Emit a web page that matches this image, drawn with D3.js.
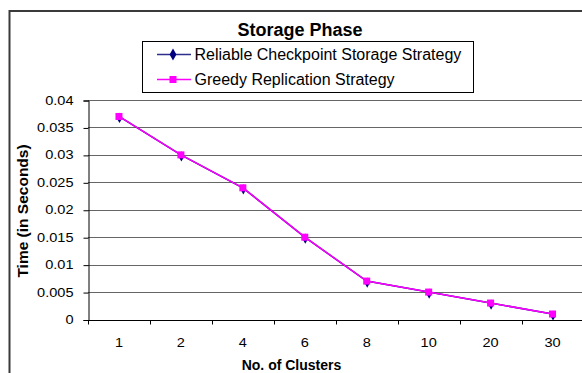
<!DOCTYPE html>
<html>
<head>
<meta charset="utf-8">
<script src="https://cdn.jsdelivr.net/npm/d3@7/dist/d3.min.js"></script>
<style>
  html, body { margin: 0; padding: 0; background: #fff; }
  svg { display: block; font-family: "Liberation Sans", Arial, sans-serif; }
</style>
</head>
<body>
<svg id="chart" width="582" height="373"></svg>
<script>
// Storage phase timing per number of clusters
const clusters = ["1", "2", "4", "6", "8", "10", "20", "30"];
const reliableCheckpoint = [0.037, 0.030, 0.024, 0.015, 0.007, 0.005, 0.003, 0.001];
const greedyReplication  = [0.037, 0.030, 0.024, 0.015, 0.007, 0.005, 0.003, 0.001];
const yTicks = [0, 0.005, 0.01, 0.015, 0.02, 0.025, 0.03, 0.035, 0.04];
const seriesNames = ["Reliable Checkpoint Storage Strategy", "Greedy Replication Strategy"];

const svg = d3.select("#chart");
const tickFont = 13, tickStretch = 1.12;

// outer chart frame (runs past the right and bottom edges)
svg.append("rect")
  .attr("x", 9.5).attr("y", 11).attr("width", 600).attr("height", 400)
  .attr("fill", "#fff").attr("stroke", "#3a3a3a").attr("stroke-width", 2);

const plot = { left: 88, right: 583.5, top: 100, bottom: 319.5 };

const x = d3.scaleBand().domain(clusters).range([plot.left, plot.right]);
const y = d3.scaleLinear().domain([0, 0.04]).range([plot.bottom, plot.top]);
const py = v => Math.round(y(v)) + 0.5;

// horizontal gridlines
svg.append("g")
  .selectAll("line")
  .data(yTicks.filter(d => d > 0))
  .join("line")
  .attr("x1", plot.left).attr("x2", plot.right)
  .attr("y1", py).attr("y2", py)
  .attr("stroke", "#666").attr("stroke-width", 1);

// y axis
const yAxis = d3.axisLeft(y).tickValues(yTicks).tickSize(5).tickFormat("");
const gy = svg.append("g").attr("transform", `translate(${plot.left + 0.5},0.5)`).call(yAxis);
gy.select(".domain").attr("stroke", "#000");
gy.selectAll(".tick line").attr("stroke", "#000");
svg.append("g").selectAll("text")
  .data(yTicks)
  .join("text")
  .attr("transform", d => `translate(73.5,${y(d) + 4.6}) scale(${tickStretch},1)`)
  .attr("text-anchor", "end")
  .attr("font-size", tickFont)
  .text(d => d === 0 ? "0" : String(+d.toFixed(3)));

// x axis: ticks sit between categories
const gx = svg.append("g").attr("transform", `translate(0,${Math.round(plot.bottom) + 0.5})`);
gx.append("line").attr("x1", plot.left).attr("x2", plot.right).attr("stroke", "#000");
gx.selectAll("line.tick")
  .data(clusters.map(c => x(c)).concat([plot.right]))
  .join("line").attr("class", "tick")
  .attr("x1", d => Math.round(d) + 0.5).attr("x2", d => Math.round(d) + 0.5)
  .attr("y1", 0).attr("y2", 4).attr("stroke", "#000");
gx.selectAll("text")
  .data(clusters)
  .join("text")
  .attr("transform", d => `translate(${x(d) + x.bandwidth() / 2},26.5) scale(${tickStretch},1)`)
  .attr("text-anchor", "middle")
  .attr("font-size", tickFont)
  .text(d => d);

// series
const cx = c => x(c) + x.bandwidth() / 2;
const line = d3.line().x((d, i) => cx(clusters[i])).y(d => y(d));

svg.append("path").datum(reliableCheckpoint)
  .attr("d", line).attr("fill", "none").attr("stroke", "#000080").attr("stroke-width", 1.5);
svg.append("g").selectAll("path")
  .data(reliableCheckpoint)
  .join("path")
  .attr("d", d3.symbol(d3.symbolDiamond, 30))
  .attr("transform", (d, i) => `translate(${cx(clusters[i]) + 0.5},${y(d) + 1.5})`)
  .attr("fill", "#000080");

svg.append("path").datum(greedyReplication)
  .attr("d", line).attr("fill", "none").attr("stroke", "#ff00ff").attr("stroke-width", 1.5);
svg.append("g").selectAll("rect")
  .data(greedyReplication)
  .join("rect")
  .attr("x", (d, i) => cx(clusters[i]) - 3.5)
  .attr("y", d => y(d) - 3.5)
  .attr("width", 7).attr("height", 7)
  .attr("fill", "#ff00ff");

// title
svg.append("text")
  .attr("x", 300).attr("y", 35.5)
  .attr("text-anchor", "middle")
  .attr("font-size", 18).attr("font-weight", "bold")
  .text("Storage Phase");

// legend
const legend = svg.append("g");
legend.append("rect")
  .attr("x", 142.5).attr("y", 41.5).attr("width", 331).attr("height", 51)
  .attr("fill", "#fff").attr("stroke", "#000");
const legendRows = [
  { name: seriesNames[0], color: "#000080", colorLine: "#2e2e8c", shape: "diamond", yy: 54.5 },
  { name: seriesNames[1], color: "#ff00ff", colorLine: "#ff00ff", shape: "square", yy: 79.5 }
];
legendRows.forEach(r => {
  legend.append("line").attr("x1", 157).attr("x2", 191).attr("y1", r.yy).attr("y2", r.yy)
    .attr("stroke", r.colorLine).attr("stroke-width", 1.5);
  if (r.shape === "diamond") {
    legend.append("path").attr("d", d3.symbol(d3.symbolDiamond, 40))
      .attr("transform", `translate(173,${r.yy})`).attr("fill", r.color);
  } else {
    legend.append("rect").attr("x", 169.5).attr("y", r.yy - 3.5).attr("width", 7).attr("height", 7)
      .attr("fill", r.color);
  }
  legend.append("text").attr("x", 194.5).attr("y", r.yy + 5.5)
    .attr("font-size", 16).text(r.name);
});

// axis titles
svg.append("text")
  .attr("transform", "translate(27.5,211) rotate(-90)")
  .attr("text-anchor", "middle")
  .attr("font-size", 15.5).attr("font-weight", "bold")
  .text("Time (in Seconds)");
svg.append("text")
  .attr("x", 291.5).attr("y", 370)
  .attr("text-anchor", "middle")
  .attr("font-size", 14).attr("font-weight", "bold")
  .text("No. of Clusters");
</script>
</body>
</html>
